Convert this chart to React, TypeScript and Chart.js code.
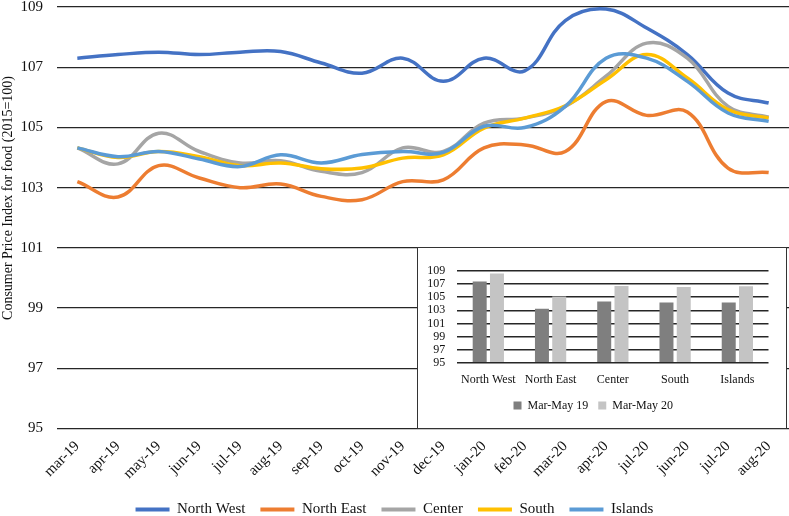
import React, { useEffect, useRef } from "react";
import { Chart, registerables } from "chart.js";

Chart.register(...registerables);

const FONT = '"Liberation Serif", "Times New Roman", serif';
const Y_TITLE = "Consumer Price Index for food (2015=100)";

const months = ["mar-19", "apr-19", "may-19", "jun-19", "jul-19", "aug-19", "sep-19", "oct-19", "nov-19", "dec-19", "jan-20", "feb-20", "mar-20", "apr-20", "jul-20", "jun-20", "jul-20", "aug-20"];
const northWest = [107.3, 107.42, 107.5, 107.42, 107.5, 107.52, 107.14, 106.8, 107.3, 106.53, 107.3, 106.88, 108.55, 108.93, 108.3, 107.42, 106.14, 105.81];
const northEast = [103.2, 102.69, 103.73, 103.32, 103.0, 103.12, 102.71, 102.6, 103.2, 103.26, 104.32, 104.42, 104.2, 105.86, 105.4, 105.51, 103.65, 103.5];
const center = [104.32, 103.79, 104.81, 104.2, 103.82, 103.89, 103.54, 103.5, 104.32, 104.2, 105.14, 105.31, 105.7, 106.7, 107.8, 107.3, 105.7, 105.34];
const south = [104.32, 104.0, 104.2, 104.03, 103.73, 103.82, 103.63, 103.65, 103.98, 104.09, 104.98, 105.31, 105.72, 106.58, 107.42, 106.64, 105.59, 105.31];
const islands = [104.32, 104.03, 104.2, 103.95, 103.7, 104.09, 103.82, 104.1, 104.2, 104.17, 105.04, 105.0, 105.7, 107.3, 107.3, 106.53, 105.48, 105.2];

const seriesNames = ["North West", "North East", "Center", "South", "Islands"];
const seriesColors = ["#4472C4", "#ED7D31", "#A5A5A5", "#FFC000", "#5B9BD5"];

const regions = ["North West", "North East", "Center", "South", "Islands"];
const marMay19 = [107.4, 103.25, 104.33, 104.18, 104.2];
const marMay20 = [108.6, 105.1, 106.7, 106.56, 106.66];

const yTitlePlugin = {
  id: "yTitle",
  afterDraw(chart: any) {
    const ctx = chart.ctx;
    ctx.save();
    ctx.translate(8, 198);
    ctx.rotate(-Math.PI / 2);
    ctx.font = `14px ${FONT}`;
    ctx.fillStyle = "#111";
    ctx.textAlign = "center";
    ctx.textBaseline = "middle";
    ctx.fillText(Y_TITLE, 0, 0);
    ctx.restore();
  },
};

export default function App() {
  const mainRef = useRef<HTMLCanvasElement>(null);
  const insetRef = useRef<HTMLCanvasElement>(null);

  useEffect(() => {
    const allSeries = [northWest, northEast, center, south, islands];
    const main = new Chart(mainRef.current!, {
      type: "line",
      data: {
        labels: months,
        datasets: allSeries.map((d, i) => ({
          label: seriesNames[i],
          data: d,
          borderColor: seriesColors[i],
          backgroundColor: seriesColors[i],
          borderWidth: 3.5,
          pointRadius: 0,
          tension: 0.4,
          fill: false,
          order: 5 - i,
        })),
      },
      options: {
        responsive: false,
        animation: false,
        layout: { padding: { top: 7, left: 0, right: 0, bottom: 0 } },
        scales: {
          x: {
            offset: true,
            grid: { display: false },
            border: { display: false },
            ticks: {
              autoSkip: false,
              minRotation: 45,
              maxRotation: 45,
              padding: 1,
              color: "#111",
              font: { family: FONT, size: 15 },
            },
            afterFit: (s: any) => {
              s.height = 58.5;
              s.paddingLeft = 0;
              s.paddingRight = 0;
            },
          },
          y: {
            min: 95,
            max: 109,
            ticks: { stepSize: 2, padding: 14, color: "#111", font: { family: FONT, size: 15 } },
            grid: { color: "#262626", lineWidth: 1.2, drawTicks: false },
            border: { display: false },
            afterFit: (s: any) => {
              s.width = 57;
              s.paddingTop = 0;
              s.paddingBottom = 0;
            },
          },
        },
        plugins: {
          tooltip: { enabled: false },
          legend: {
            position: "bottom",
            labels: {
              boxWidth: 34,
              boxHeight: 4,
              padding: 15,
              color: "#111",
              font: { family: FONT, size: 15 },
              generateLabels: (chart: any) =>
                (Chart.defaults.plugins.legend.labels.generateLabels as any)(chart)
                  .map((l: any) => ({ ...l, lineWidth: 0, fillStyle: l.strokeStyle }))
                  .sort((a: any, b: any) => a.datasetIndex - b.datasetIndex),
            },
          },
        },
      },
      plugins: [yTitlePlugin],
    } as any);

    const inset = new Chart(insetRef.current!, {
      type: "bar",
      data: {
        labels: regions,
        datasets: [
          { label: "Mar-May 19", data: marMay19, backgroundColor: "#7F7F7F", base: 95, categoryPercentage: 0.555, barPercentage: 0.81 },
          { label: "Mar-May 20", data: marMay20, backgroundColor: "#C4C4C4", base: 95, categoryPercentage: 0.555, barPercentage: 0.81 },
        ],
      },
      options: {
        responsive: false,
        animation: false,
        layout: { padding: { top: 23, right: 16.5, left: 0, bottom: 5.5 } },
        scales: {
          x: {
            grid: { display: false },
            border: { display: false },
            ticks: { padding: 2, color: "#111", font: { family: FONT, size: 12 }, maxRotation: 0, autoSkip: false },
            afterFit: (s: any) => {
              s.height = 26.7;
              s.paddingLeft = 0;
              s.paddingRight = 0;
            },
          },
          y: {
            min: 95,
            max: 109,
            ticks: { stepSize: 2, padding: 12, color: "#111", font: { family: FONT, size: 12 }, autoSkip: false },
            grid: { color: "#262626", lineWidth: 1.5, drawTicks: false },
            border: { display: false },
            afterFit: (s: any) => {
              s.width = 39.2;
              s.paddingTop = 0;
              s.paddingBottom = 0;
            },
          },
        },
        plugins: {
          tooltip: { enabled: false },
          legend: {
            position: "bottom",
            labels: { boxWidth: 8, boxHeight: 8, padding: 10, color: "#111", font: { family: FONT, size: 12 } },
          },
        },
      },
    } as any);

    return () => {
      main.destroy();
      inset.destroy();
    };
  }, []);

  return (
    <div style={{ position: "relative", width: 789, height: 516, overflow: "hidden", background: "#fff" }}>
      <style>{`body{margin:0;}`}</style>
      <canvas ref={mainRef} width={789} height={527} style={{ position: "absolute", left: 0, top: 0, width: 789, height: 527 }} />
      <div
        style={{
          position: "absolute",
          left: 417,
          top: 247,
          width: 370,
          height: 182,
          boxSizing: "border-box",
          border: "1.5px solid #333",
          background: "#fff",
        }}
      >
        <canvas ref={insetRef} width={367} height={179} style={{ display: "block", width: 367, height: 179 }} />
      </div>
    </div>
  );
}
